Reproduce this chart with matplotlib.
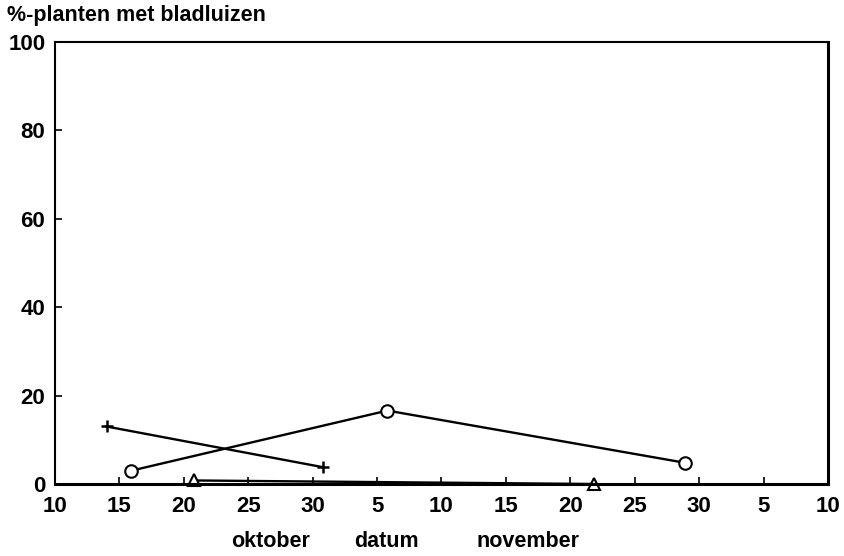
import numpy as np
import matplotlib.pyplot as plt

# x in axis units: 0 = 10 okt, every 5 units one tick (ticks evenly spaced)
plus_x = [4.0, 20.8]
plus_y = [13.0, 3.8]
circ_x = [5.9, 25.8, 48.9]
circ_y = [3.0, 16.6, 4.8]
tri_x = [10.8, 41.8]
tri_y = [0.8, 0.0]

xtick_pos = np.arange(0, 61, 5)
xtick_lab = ['10', '15', '20', '25', '30', '5', '10', '15', '20', '25', '30', '5', '10']
ytick_pos = [0, 20, 40, 60, 80, 100]

plt.rcParams['font.family'] = ['Liberation Sans', 'DejaVu Sans']
plt.rcParams['font.weight'] = 'bold'

fig = plt.figure(figsize=(8.44, 5.56), dpi=100)
ax = fig.add_axes([0.0652, 0.1295, 0.9158, 0.7955])

ax.plot(plus_x, plus_y, color='black', lw=1.7, marker='+', ms=8, mew=1.8)
ax.plot(circ_x, circ_y, color='black', lw=1.7, marker='o', ms=9, mfc='white', mew=1.5)
ax.plot(tri_x, tri_y, color='black', lw=1.7, marker='^', ms=8.5, mfc='white', mew=1.5,
        clip_on=False)

ax.set_xlim(0, 60)
ax.set_ylim(0, 100)
ax.set_xticks(xtick_pos)
ax.set_xticklabels(xtick_lab)
ax.set_yticks(ytick_pos)
ax.tick_params(direction='in', length=5, width=1.2, labelsize=16)
ax.tick_params(axis='x', pad=9)
ax.tick_params(axis='y', pad=7)

for s in ax.spines.values():
    s.set_linewidth(1.5)
ax.spines['bottom'].set_linewidth(2.2)
ax.spines['right'].set_linewidth(2.2)

trans = ax.get_xaxis_transform()
ax.text(16.7, -0.13, 'oktober', transform=trans, ha='center', va='center', fontsize=15.5)
ax.text(25.7, -0.13, 'datum', transform=trans, ha='center', va='center', fontsize=15.5)
ax.text(36.7, -0.13, 'november', transform=trans, ha='center', va='center', fontsize=15.5)

fig.text(0.008, 1 - 16 / 556, '%-planten met bladluizen', ha='left', va='center', fontsize=15.5)

fig.savefig('out.png', dpi=100)
